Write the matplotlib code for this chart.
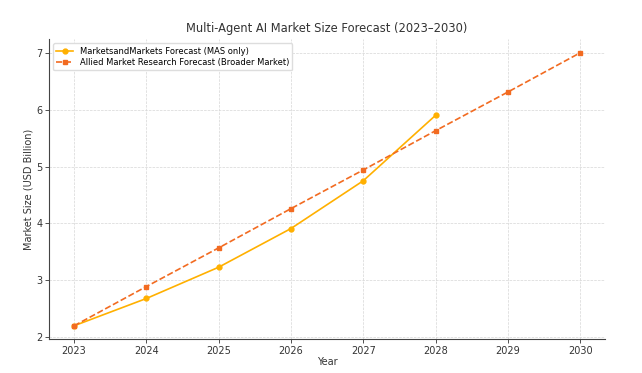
import matplotlib

matplotlib.use("Agg")
import matplotlib.pyplot as plt

years_mas = [2023, 2024, 2025, 2026, 2027, 2028]
mas_values = [2.2, 2.68, 3.23, 3.91, 4.75, 5.9]

years_amr = [2023, 2024, 2025, 2026, 2027, 2028, 2029, 2030]
amr_values = [2.2, 2.89, 3.57, 4.26, 4.94, 5.63, 6.31, 7.0]

MAS_COLOR = "#FFB000"
AMR_COLOR = "#F26B21"


def main() -> None:
    plt.rcParams["font.family"] = ["DejaVu Sans"]
    fig, ax = plt.subplots(figsize=(6.42, 3.73), dpi=100)
    fig.subplots_adjust(left=0.076, right=0.943, top=0.895, bottom=0.09)

    ax.plot(years_mas, mas_values, marker="o", markersize=3.5, linewidth=1.2,
            color=MAS_COLOR, label="MarketsandMarkets Forecast (MAS only)")
    ax.plot(years_amr, amr_values, marker="s", markersize=3.5, linewidth=1.2,
            linestyle="--", color=AMR_COLOR,
            label="Allied Market Research Forecast (Broader Market)")

    ax.set_title("Multi-Agent AI Market Size Forecast (2023\u20132030)", fontsize=8.3,
                 color="#333333", pad=5)
    ax.set_xlabel("Year", fontsize=7, color="#333333", labelpad=1)
    ax.set_ylabel("Market Size (USD Billion)", fontsize=7, color="#333333", labelpad=2)
    ax.set_xticks(years_amr)
    ax.tick_params(labelsize=7, colors="#333333", length=3, width=0.6, pad=1.5)
    ax.grid(True, linestyle="--", linewidth=0.5, color="#d6d6d6")
    for side in ("top", "right"):
        ax.spines[side].set_visible(False)
    for side in ("left", "bottom"):
        ax.spines[side].set_color("#444444")
        ax.spines[side].set_linewidth(0.8)

    ax.legend(loc="upper left", fontsize=6, frameon=True, framealpha=1.0,
              edgecolor="#dddddd", handlelength=2.0, borderpad=0.4, labelspacing=0.3)

    fig.savefig("out.png", dpi=100)
    plt.close(fig)


if __name__ == "__main__":
    main()
